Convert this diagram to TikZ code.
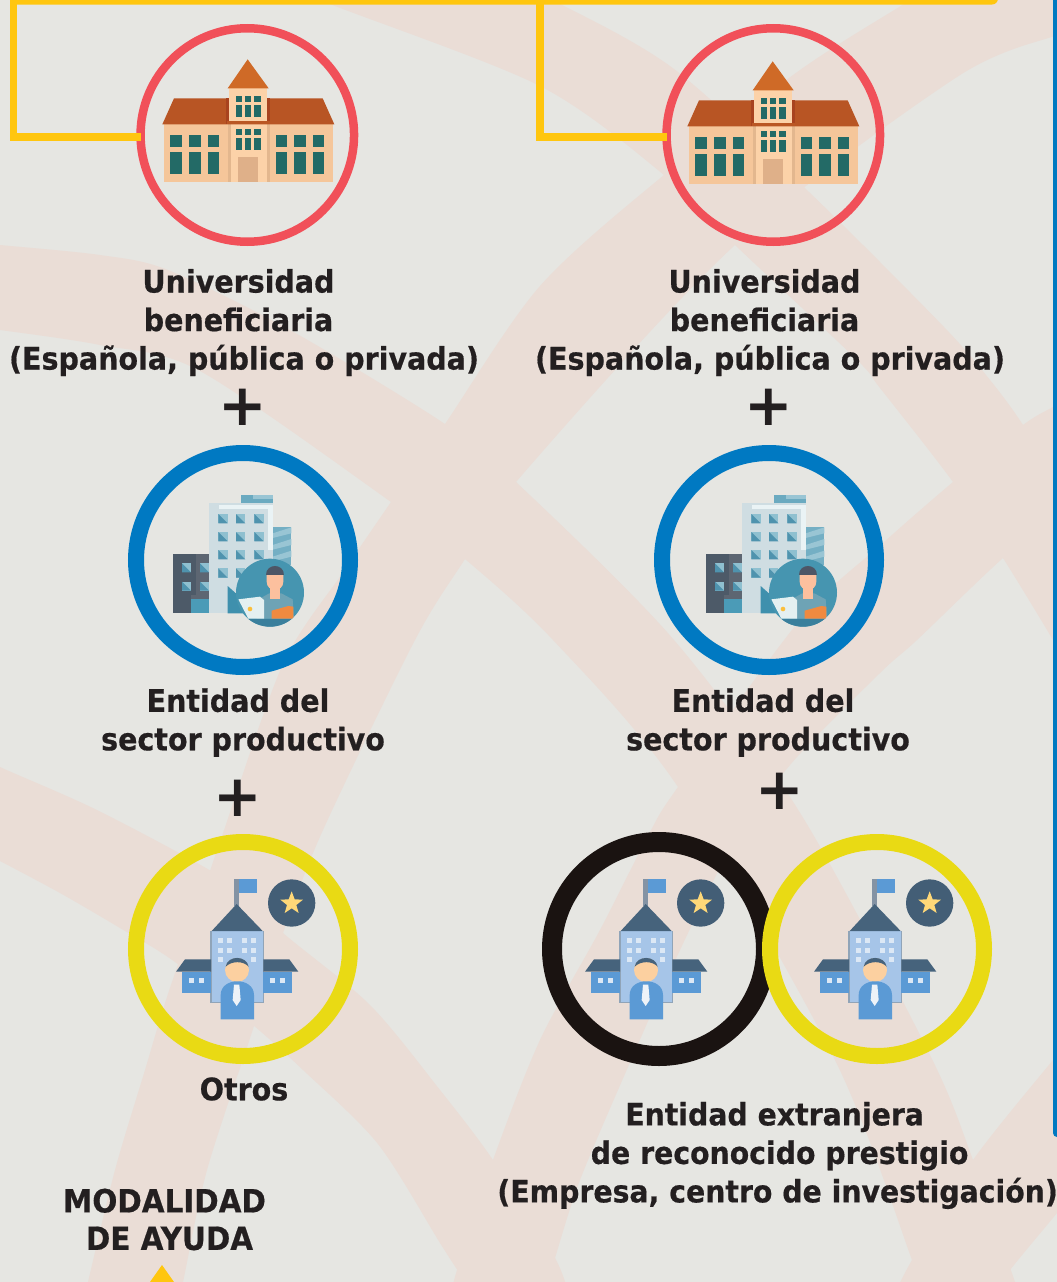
\documentclass[tikz,border=0pt]{standalone}
\usepackage{fontspec}
\newfontfamily\labfont[FakeStretch=0.92,BoldFeatures={FakeBold=0.5}]{DejaVu Sans}
\newfontfamily\plusfont{DejaVu Sans}
\definecolor{bgc}{HTML}{E6E6E2}
\definecolor{bandc}{HTML}{EADDD6}
\definecolor{yel}{HTML}{FFC60F}
\definecolor{sidebl}{HTML}{0079C1}
\definecolor{redr}{HTML}{F15059}
\definecolor{bluer}{HTML}{0079C2}
\definecolor{yelr}{HTML}{E9DA14}
\definecolor{blkr}{HTML}{1A1311}
\definecolor{txt}{HTML}{231F20}
\definecolor{wall}{HTML}{F5C69A}
\definecolor{wall2}{HTML}{FCD2A8}
\definecolor{wallsh}{HTML}{E3B78E}
\definecolor{roofc}{HTML}{B85524}
\definecolor{roofd}{HTML}{A8431F}
\definecolor{spire}{HTML}{CF6A27}
\definecolor{winc}{HTML}{236A66}
\definecolor{doorc}{HTML}{DFB089}
\definecolor{slate}{HTML}{46637C}
\definecolor{skyb}{HTML}{5B9AD5}
\definecolor{paleb}{HTML}{A6C5E8}
\definecolor{teal}{HTML}{4695B0}
\definecolor{twr}{HTML}{CFDDE2}
\definecolor{twrh}{HTML}{EAF3F5}
\definecolor{wlt}{HTML}{8FC0D0}
\definecolor{wdk}{HTML}{4F93AE}
\definecolor{gr1}{HTML}{5D6672}
\definecolor{gr2}{HTML}{4D5A68}
\definecolor{te1}{HTML}{4B9BB7}
\definecolor{te2}{HTML}{3F90AD}
\definecolor{te3}{HTML}{3A7F9C}
\definecolor{shirt}{HTML}{6EA3B5}
\definecolor{skin}{HTML}{FCC09E}
\definecolor{hair}{HTML}{4D5666}
\definecolor{armc}{HTML}{F08A40}
\definecolor{lapt}{HTML}{E4F0F1}
\definecolor{dotc}{HTML}{FBBF3C}
\definecolor{pole}{HTML}{8493A4}
\definecolor{starc}{HTML}{FFD878}
\definecolor{edgec}{HTML}{90A4B8}
\definecolor{winb}{HTML}{DCE8F5}
\definecolor{skin2}{HTML}{FCD0A0}
\definecolor{tiec}{HTML}{EEF3F8}
\tikzset{
  band/.style={fill=bandc},
  ring/.style={circle,inner sep=0pt,outer sep=0pt,minimum size=214pt,fill=none},
  redring/.style={ring,draw=redr,line width=8.5pt,minimum size=213.5pt},
  bluering/.style={ring,draw=bluer,line width=16pt},
  yelring/.style={ring,draw=yelr,line width=16pt},
  blkring/.style={ring,draw=blkr,line width=20pt},
  link/.style={draw=yel,line width=7.5pt,line cap=butt,line join=miter},
  lab/.style={font=\labfont\bfseries\fontsize{31}{38.5}\selectfont,text=txt,align=center,inner sep=0pt},
  labwide/.style={lab,font=\labfont\bfseries\fontsize{30.8}{38.5}\selectfont},
  labcaps/.style={lab,font=\labfont\bfseries\fontsize{32}{37.5}\selectfont},
  pluslab/.style={font=\plusfont\bfseries\fontsize{58}{58}\selectfont,text=txt,inner sep=0pt}
}
\newcommand{\iconUni}[2]{%
\begin{scope}[shift={(#1,#2)},x=0.33333pt,y=-0.33333pt]
  \fill[wall] (103,313) rectangle (608,485);
  \fill[wallsh] (295,313) rectangle (420,485);
  \fill[wall2] (303,313) rectangle (412,485);
  \fill[roofc] (97,313) -- (132,235) -- (578,235) -- (613,313) -- cycle;
  \fill[roofd] (288,235) rectangle (420,313);
  \fill[wall2] (298,205) rectangle (410,302);
  \fill[roofc!90!spire] (292,302) rectangle (420,313);
  \fill[spire] (293,205) -- (353,118) -- (416,205) -- cycle;
  \foreach \xx in {121,177,233,437,493,548}{
    \fill[winc] (\xx,345) rectangle ++(35,35);
    \fill[winc] (\xx,395) rectangle ++(35,67);
  }
  \foreach \xx in {317,345,373}{
    \fill[winc] (\xx,228) rectangle ++(19,19);
    \fill[winc] (\xx,255) rectangle ++(19,35);
    \fill[winc] (\xx,327) rectangle ++(19,19);
    \fill[winc] (\xx,353) rectangle ++(19,36);
  }
  \fill[doorc] (325,410) rectangle (383,485);
\end{scope}}
\newcommand{\iconOffice}[2]{%
\begin{scope}[shift={(#1,#2)},x=0.33333pt,y=-0.33333pt]
  \fill[teal!75!white] (458,260) rectangle (514,375);
  \foreach \yy in {280,315,350}{\fill[teal!55!white] (458,\yy) -- (514,\yy-18) -- (514,\yy) -- (458,\yy+14) -- cycle;}
  \fill[teal!80!white] (363,166) rectangle (458,192);
  \fill[teal!55!white] (400,166) rectangle (458,178);
  \fill[twr] (267,190) rectangle (458,520);
  \fill[twrh] (298,195) rectangle (458,207);
  \fill[twrh] (445,195) rectangle (458,330);
  \foreach \xx in {295,348,403}{\foreach \yy in {222,276,330,385}{
    \fill[wlt] (\xx,\yy) rectangle ++(28,28);
    \fill[wdk] (\xx,\yy) -- ++(28,28) -- ++(-28,0) -- cycle;
  }}
  \fill[gr1] (159,342) rectangle (267,520);
  \fill[gr2] (159,342) rectangle (228,465);
  \fill[gr2] (159,465) rectangle (213,520);
  \foreach \xx in {186,240}{\foreach \yy in {370,425}{
    \fill[wlt] (\xx,\yy) rectangle ++(27,27);
    \fill[wdk] (\xx,\yy) -- ++(27,27) -- ++(-27,0) -- cycle;
  }}
  \fill[te1] (213,520) -- (213,478) -- (267,478) -- (267,520) -- cycle;
  \fill[te2] (323,520) -- (323,438) -- (370,480) -- (370,520) -- cycle;
  \fill[teal] (450,458) circle[radius=102];
  \begin{scope}
    \clip (450,458) circle[radius=102];
    \fill[te3] (340,536) rectangle (560,565);
    \fill[shirt] (410,536) -- (415,478) -- (448,460) -- (484,460) -- (518,478) -- (522,536) -- cycle;
    \fill[skin] (450,440) rectangle (480,478);
    \fill[skin] (440,402) -- (490,402) -- (490,425) .. controls (490,458) and (440,458) .. (440,425) -- cycle;
    \fill[hair] (437,405) .. controls (437,368) and (493,368) .. (493,405) -- cycle;
    \fill[armc] (455,512) -- (505,498) -- (520,500) -- (520,536) -- (455,536) -- cycle;
    \fill[lapt] (355,478) -- (420,470) -- (432,480) -- (432,536) -- (385,536) -- cycle;
    \fill[dotc] (390,507) circle[radius=7];
  \end{scope}
\end{scope}}
\newcommand{\iconSchool}[2]{%
\begin{scope}[shift={(#1,#2)},x=0.33333pt,y=-0.33333pt]
  \fill[pole] (343,148) rectangle (358,228);
  \fill[skyb] (358,148) rectangle (410,190);
  \fill[slate!95!black] (515,219) circle[radius=71];
  \fill[starc] (515,184) -- (524,208) -- (549,209) -- (529,225) -- (536,249) -- (515,235) -- (494,249) -- (501,225) -- (481,209) -- (506,208) -- cycle;
  \fill[edgec] (270,303) rectangle (432,518);
  \fill[paleb] (275,303) rectangle (428,515);
  \fill[slate] (275,303) -- (350,222) -- (428,303) -- cycle;
  \foreach \xx in {294,322,365,394}{\foreach \yy in {324,353}{
    \fill[winb] (\xx,\yy) rectangle ++(15,15);
  }}
  \fill[winb] (294,382) rectangle ++(15,15);
  \fill[winb] (394,382) rectangle ++(15,15);
  \fill[skyb] (187,425) rectangle (273,490);
  \fill[skyb] (430,425) rectangle (516,490);
  \fill[slate] (168,425) -- (195,388) -- (273,388) -- (273,425) -- cycle;
  \fill[slate] (430,388) -- (508,388) -- (535,425) -- (430,425) -- cycle;
  \foreach \xx in {208,237,450,479}{\fill[winb] (\xx,445) rectangle ++(15,15);}
  \fill[skin2] (351,420) circle[radius=36];
  \fill[slate] (317,410) .. controls (322,375) and (380,375) .. (386,410) .. controls (370,392) and (335,392) .. (317,410) -- cycle;
  \fill[skyb] (302,568) -- (302,495) .. controls (302,440) and (402,440) .. (402,495) -- (402,568) -- cycle;
  \fill[tiec] (342,464) -- (358,464) -- (362,510) -- (350,528) -- (338,510) -- cycle;
\end{scope}}
\begin{document}
\begin{tikzpicture}[x=1pt,y=-1pt]
\clip (0,0) rectangle (1057,1282);
\fill[bgc] (0,0) rectangle (1057,1282);
% band 1
\fill[band] plot[smooth,tension=.5] coordinates {(480,-30) (560,4) (674,69) (809,192) (944,327) (990,380) (1023,425) (1075,510)}
 -- plot[smooth,tension=.5] coordinates {(1075,680) (1053,640) (1003,558) (953,482) (880,388) (856,359) (735,245) (664,175) (540,86) (330,4) (250,-30)} -- cycle;
% band B
\fill[band] plot[smooth,tension=.5] coordinates {(-20,243) (0,245) (100,255) (168,270) (290,330) (445,424) (516,482) (674,640) (802,816) (930,1055) (973,1160) (1015,1282) (1022,1300)}
 -- plot[smooth,tension=.5] coordinates {(925,1300) (918,1282) (912,1260) (835,1060) (678,787) (553,640) (465,559) (391,502) (200,371) (100,345) (0,330) (-20,328)} -- cycle;
% band C
\fill[band] plot[smooth,tension=.5] coordinates {(960,-30) (904,4) (800,70) (664,175) (540,286) (445,424) (391,502) (344,571) (283,664) (222,836) (208,877) (167,997) (145,1070) (115,1170) (88,1282) (84,1300)}
 -- plot[smooth,tension=.5] coordinates {(178,1300) (183,1282) (207,1170) (253,1029) (283,933) (323,830) (415,640) (465,559) (516,482) (735,245) (957,77) (1057,35) (1075,28)} -- (1075,-30) -- cycle;
% band D
\fill[band] plot[smooth,tension=.5] coordinates {(-20,755) (0,767) (101,812) (229,882) (283,933) (370,1005) (440,1090) (493,1160) (555,1258) (570,1300)}
 -- plot[smooth,tension=.5] coordinates {(475,1300) (465,1282) (440,1243) (378,1144) (303,1070) (253,1025) (175,962) (120,928) (60,893) (0,861) (-20,851)} -- cycle;
% band E
\fill[band] plot[smooth,tension=.5] coordinates {(1075,395) (1053,407) (1023,425) (953,482) (883,543) (800,620) (678,787) (650,832) (600,930) (540,1040) (493,1160) (457,1270) (450,1300)}
 -- plot[smooth,tension=.5] coordinates {(543,1300) (555,1258) (580,1180) (628,1067) (680,950) (730,850) (790,765) (880,673) (917,640) (1003,558) (1075,500)} -- cycle;
% band F
\fill[band] plot[smooth,tension=.5] coordinates {(1075,1035) (1053,1060) (973,1160) (912,1260) (892,1300)}
 -- plot[smooth,tension=.5] coordinates {(990,1300) (1010,1270) (1057,1213) (1075,1190)} -- cycle;
% frame strokes
\fill[yel,rounded corners=6pt] (10,-20) rectangle (998,4.5);
\fill[sidebl,rounded corners=4pt] (1053,-20) rectangle (1075,1137);
\fill[yel] (162,1265) -- (174,1282) -- (150,1282) -- cycle;
% rings
\coordinate (t1) at (13.7,0);
\coordinate (k1) at (13.7,137);
\coordinate (t2) at (539.8,0);
\coordinate (k2) at (539.8,137);
\node[redring] (r1) at (247.3,135) {};
\node[redring] (r2) at (773.3,135) {};
\draw[link] (t1) -- (k1) -- ([yshift=-2pt]r1.west);
\draw[link] (t2) -- (k2) -- ([yshift=-2pt]r2.west);
\node[bluering] (b1) at (243,560) {};
\node[bluering] (b2) at (769,560) {};
\node[yelring] (y1) at (243,949) {};
\node[blkring] (k3) at (659,949) {};
\node[yelring] (y2) at (877,949) {};
% icons
\iconUni{130}{20}
\iconUni{655}{22}
\iconOffice{120}{440}
\iconOffice{653}{440}
\iconSchool{120}{830}
\iconSchool{529}{830}
\iconSchool{758}{830}
% texts
\node[lab] (u1) at (244,322.5) {\mbox{Universidad\hspace{11pt}}\\\mbox{beneficiaria\hspace{11pt}}\\(Española, pública o privada)};
\node[lab] (u2) at (770,322.5) {\mbox{Universidad\hspace{11pt}}\\\mbox{beneficiaria\hspace{11pt}}\\(Española, pública o privada)};
\node[pluslab] (p1) at (243,407) {+};
\node[pluslab] (p2) at (769,407) {+};
\node[lab] (e1) at (243,722.5) {\mbox{Entidad del\hspace{10pt}}\\sector productivo};
\node[lab] (e2) at (768,722.5) {\mbox{Entidad del\hspace{10pt}}\\sector productivo};
\node[pluslab] (p3) at (238,798) {+};
\node[pluslab] (p4) at (780,791) {+};
\node[lab] (o1) at (244,1089) {Otros};
\node[labwide] (x1) at (777.6,1155.5) {\mbox{Entidad extranjera\hspace{6pt}}\\\mbox{\hspace{4pt}de reconocido prestigio}\\(Empresa, centro de investigación)};
\node[labcaps] (m1) at (167,1219.5) {\mbox{MODALIDAD\hspace{5pt}}\\\mbox{\hspace{5pt}DE AYUDA}};
\end{tikzpicture}
\end{document}
